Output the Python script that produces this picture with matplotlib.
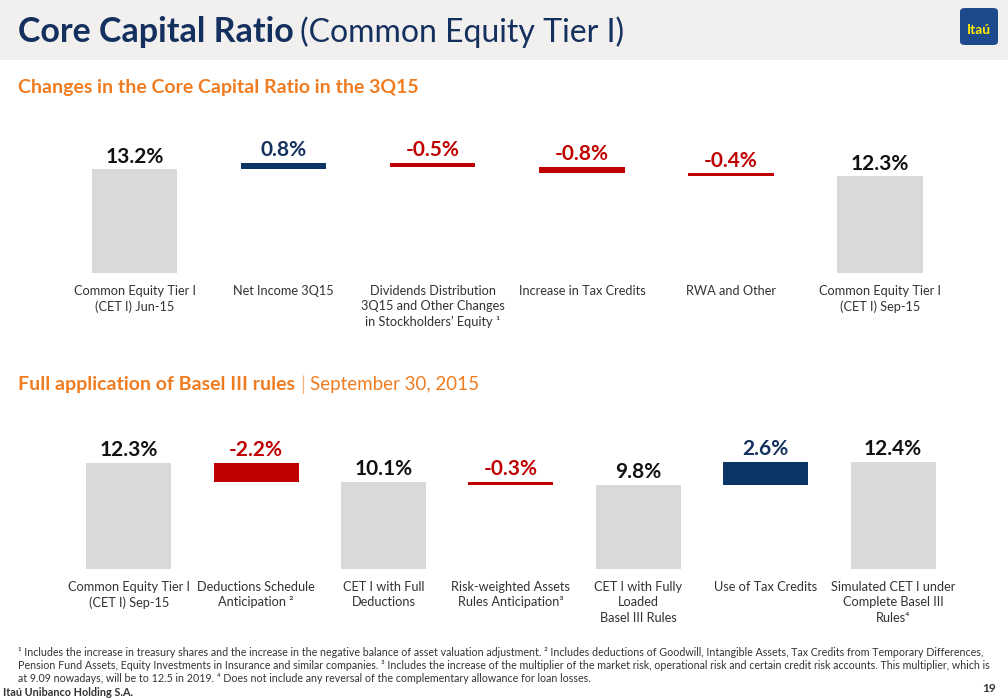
import matplotlib
matplotlib.use("Agg")
from matplotlib import pyplot as plt
from matplotlib.patches import Rectangle, FancyBboxPatch

plt.rcParams['font.family'] = ['Lato', 'DejaVu Sans']

# data
top_labels = ['Common Equity Tier I\n(CET I) Jun-15', 'Net Income 3Q15',
              'Dividends Distribution\n3Q15 and Other Changes\nin Stockholders\u2019 Equity \u00b9',
              'Increase in Tax Credits', 'RWA and Other',
              'Common Equity Tier I\n(CET I) Sep-15']
top_values = [13.2, 0.8, -0.5, -0.8, -0.4, 12.3]
top_kinds = ['total', 'delta', 'delta', 'delta', 'delta', 'total']

bottom_labels = ['Common Equity Tier I\n(CET I) Sep-15', 'Deductions Schedule\nAnticipation \u00b2',
                 'CET I with Full\nDeductions', 'Risk-weighted Assets\nRules Anticipation\u00b3',
                 'CET I with Fully\nLoaded\nBasel III Rules', 'Use of Tax Credits',
                 'Simulated CET I under\nComplete Basel III\nRules\u2074']
bottom_values = [12.3, -2.2, 10.1, -0.3, 9.8, 2.6, 12.4]
bottom_kinds = ['total', 'delta', 'total', 'delta', 'total', 'delta', 'total']

footnotes = [
    "\u00b9 Includes the increase in treasury shares and the increase in the negative balance of asset valuation adjustment. "
    "\u00b2 Includes deductions of Goodwill, Intangible Assets, Tax Credits from Temporary Differences,",
    "Pension Fund Assets, Equity Investments in Insurance and similar companies. \u00b3 Includes the increase of the multiplier "
    "of the market risk, operational risk and certain credit risk accounts. This multiplier, which is",
    "at 9.09 nowadays, will be to 12.5 in 2019. \u2074 Does not include any reversal of the complementary allowance for loan losses.",
]

NAVY = '#14305e'
BLUE_BAR = '#0b3565'
RED = '#c00000'
GREY_BAR = '#d9d9d9'
ORANGE = '#f07c21'
TXT = '#333333'

W, H = 1008, 699
fig = plt.figure(figsize=(W / 100, H / 100), dpi=100)
fig.patch.set_facecolor('white')


def fx(px):
    return px / W


def fy(py):
    return 1 - py / H


# header band
fig.add_artist(Rectangle((0, fy(60)), 1, 60 / H, transform=fig.transFigure,
                         facecolor='#f2f0ee', edgecolor='none'))
t1 = fig.text(fx(18), fy(32), 'Core Capital Ratio', fontsize=24.5, fontweight='bold',
              color=NAVY, va='center')
fig.canvas.draw()
r = fig.canvas.get_renderer()
bb = t1.get_window_extent(r)
fig.text(bb.x1 / W + fx(6), fy(32), '(Common Equity Tier I)', fontsize=23,
         fontweight='normal', color=NAVY, va='center')

# logo
fig.add_artist(FancyBboxPatch((fx(960), fy(45)), 38 / W, 37 / H,
                              boxstyle='round,pad=0,rounding_size=0.005',
                              transform=fig.transFigure, facecolor='#1d4a8c',
                              edgecolor='none'))
fig.text(fx(979), fy(30), 'Ita\u00fa', fontsize=10, fontweight='bold',
         color='#ffec00', ha='center', va='center')

# section titles
fig.text(fx(18), fy(87), 'Changes in the Core Capital Ratio in the 3Q15', fontsize=14,
         fontweight='bold', color=ORANGE, va='center')
s2 = fig.text(fx(18), fy(385), 'Full application of Basel III rules', fontsize=14,
              fontweight='bold', color=ORANGE, va='center')
bb = s2.get_window_extent(r)
s3 = fig.text(bb.x1 / W + fx(5), fy(385), '|', fontsize=14, color='#f6b382', va='center')
bb = s3.get_window_extent(r)
fig.text(bb.x1 / W + fx(5), fy(385), 'September 30, 2015', fontsize=13.5,
         color=ORANGE, va='center')


def waterfall(ax, labels, values, kinds, ymax, width):
    level = 0.0
    for i, (v, k) in enumerate(zip(values, kinds)):
        if k == 'total':
            bottom, level = 0.0, v
            color, tcolor = GREY_BAR, '#111111'
        else:
            bottom = level
            level += v
            color = BLUE_BAR if v > 0 else RED
            tcolor = NAVY if v > 0 else RED
        ax.bar(i, v, bottom=bottom, width=width, color=color, edgecolor='none')
        ax.annotate(f'{v:.1f}%', (i, max(bottom, bottom + v)), xytext=(0, 2),
                    textcoords='offset points', ha='center', va='bottom',
                    fontsize=15, fontweight='bold', color=tcolor)
    ax.set_xlim(-0.5, len(values) - 0.5)
    ax.set_ylim(0, ymax)
    ax.set_xticks(range(len(values)))
    ax.set_xticklabels(labels, fontsize=9.2, color=TXT, linespacing=1.35)
    ax.tick_params(axis='x', length=0, pad=8.5)
    ax.set_yticks([])
    for s in ax.spines.values():
        s.set_visible(False)
    ax.patch.set_alpha(0)


# top chart: baseline at y=273, 7.85 px per point
ax1 = fig.add_axes([fx(60), 1 - 273 / H, 894.6 / W, 16 * 7.85 / H])
waterfall(ax1, top_labels, top_values, top_kinds, 16, 0.573)

# bottom chart: baseline at y=569, 8.62 px per point
ax2 = fig.add_axes([fx(65), 1 - 569 / H, 891.8 / W, 14 * 8.62 / H])
waterfall(ax2, bottom_labels, bottom_values, bottom_kinds, 14, 0.667)

# footnotes
for j, line in enumerate(footnotes):
    fig.text(fx(18), fy(652 + 13.5 * j), line, fontsize=7.7, color=TXT, va='center')
fig.text(fx(3), fy(692), 'Ita\u00fa Unibanco Holding S.A.', fontsize=7.8, fontweight='bold',
         color=TXT, va='center')
fig.text(fx(996), fy(689), '19', fontsize=8.5, fontweight='bold', color=TXT,
         ha='right', va='center')

fig.savefig('out.png', dpi=100)
